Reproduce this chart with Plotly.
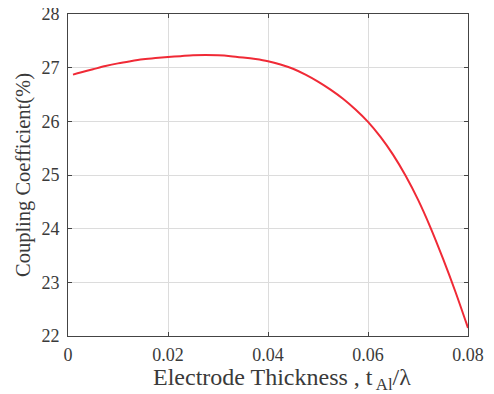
import plotly.graph_objects as go

thickness = [0.001, 0.0025, 0.005, 0.0075, 0.01, 0.0125, 0.015, 0.0175, 0.02, 0.0225,
             0.025, 0.0275, 0.03, 0.0325, 0.035, 0.0375, 0.04, 0.0425, 0.045, 0.0475,
             0.05, 0.0525, 0.055, 0.0575, 0.06, 0.0625, 0.065, 0.0675, 0.07, 0.0725,
             0.075, 0.0775, 0.08]
coupling = [26.87, 26.91, 26.97, 27.03, 27.08, 27.12, 27.155, 27.18, 27.20, 27.215,
            27.23, 27.235, 27.23, 27.215, 27.19, 27.16, 27.12, 27.06, 26.98, 26.87,
            26.74, 26.59, 26.42, 26.22, 25.99, 25.71, 25.38, 24.99, 24.54, 24.02,
            23.44, 22.82, 22.15]

x_ticks = [0, 0.02, 0.04, 0.06, 0.08]
x_tick_labels = ["0", "0.02", "0.04", "0.06", "0.08"]
y_ticks = [22, 23, 24, 25, 26, 27, 28]
x_title = "Electrode Thickness , t<sub> Al</sub>/λ"
y_title = "Coupling Coefficient(%)"

fig = go.Figure()
fig.add_trace(go.Scatter(
    x=thickness, y=coupling, mode="lines",
    line=dict(color="#f02a36", width=2, shape="spline", smoothing=0.8),
    showlegend=False,
))

tick_font = dict(family="Liberation Serif", size=18, color="#3a3a3a")
xtitle_font = dict(family="Liberation Serif", size=24, color="#3a3a3a")
ytitle_font = dict(family="Liberation Serif", size=20.5, color="#3a3a3a")
axis_common = dict(
    showline=True, linecolor="#444444", linewidth=1, mirror="ticks",
    ticks="inside", ticklen=4, tickcolor="#444444",
    showgrid=True, gridcolor="#dcdcdc", gridwidth=1, zeroline=False,
    tickfont=tick_font, automargin=False, ticklabeloverflow="allow",
)
# page body has an 8px margin, so the figure is sized/offset to compensate
fig.update_layout(
    width=486, height=386,
    margin=dict(l=60, r=26, t=6, b=58),
    paper_bgcolor="white", plot_bgcolor="white",
    font=tick_font,
    xaxis=dict(range=[0, 0.08], tickvals=x_ticks, ticktext=x_tick_labels,
               ticklabelstandoff=2, **axis_common),
    yaxis=dict(range=[22, 28], tickvals=y_ticks, ticklabelstandoff=4,
               title=dict(text=y_title, font=ytitle_font, standoff=5),
               **axis_common),
    annotations=[dict(
        text=x_title, xref="paper", yref="paper", x=0.536, y=-0.080,
        xanchor="center", yanchor="top", showarrow=False, font=xtitle_font,
    )],
)
fig.write_html("out.html")
